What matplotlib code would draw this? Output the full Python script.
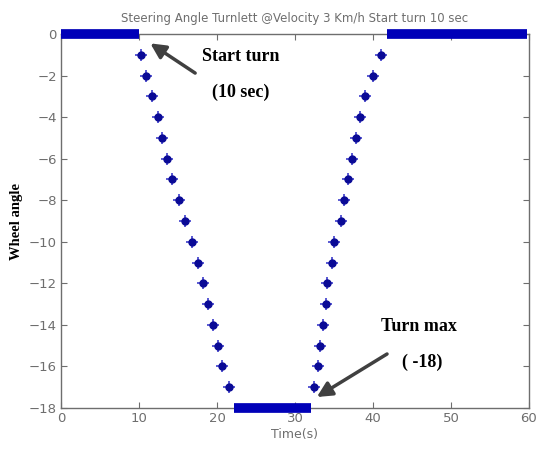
import matplotlib
matplotlib.use("Agg")
import matplotlib.pyplot as plt

# steering angle held constant (start, end, angle)
hold_start = [0.0, 22.2, 41.8]
hold_end = [10.0, 32.05, 59.7]
hold_angle = [0, -18, 0]

# ramp into the turn
ramp_in_t = [10.26, 10.94, 11.67, 12.44, 12.9, 13.59, 14.23, 15.13, 15.85,
             16.79, 17.51, 18.15, 18.79, 19.44, 20.08, 20.64, 21.58]
ramp_in_a = [-1, -2, -3, -4, -5, -6, -7, -8, -9,
             -10, -11, -12, -13, -14, -15, -16, -17]

# ramp back out of the turn
ramp_out_t = [32.4, 32.9, 33.25, 33.55, 33.95, 34.1, 34.7, 34.95, 35.9,
              36.3, 36.75, 37.3, 37.85, 38.3, 39.0, 40.0, 41.05]
ramp_out_a = [-17, -16, -15, -14, -13, -12, -11, -10, -9,
              -8, -7, -6, -5, -4, -3, -2, -1]

x_ticks = [0, 10, 20, 30, 40, 50, 60]
y_ticks = [0, -2, -4, -6, -8, -10, -12, -14, -16, -18]

BAR_COLOR = "#0000B8"
DOT_COLOR = "#0A0A96"
GREY = "#6E6E6E"

fig = plt.figure(figsize=(5.42, 4.51), dpi=100)
ax = fig.add_axes([0.1125, 0.0953, 0.8635, 0.8293])

for t0, t1, a in zip(hold_start, hold_end, hold_angle):
    ax.plot([t0, t1], [a, a], color=BAR_COLOR, linewidth=7,
            solid_capstyle="butt", zorder=3, clip_on=False)

for ts, angs in [(ramp_in_t, ramp_in_a), (ramp_out_t, ramp_out_a)]:
    ax.plot(ts, angs, linestyle="none", marker="+", markersize=9,
            markeredgewidth=1.4, color="#3030C8", alpha=0.8, zorder=3)
    ax.plot(ts, angs, linestyle="none", marker="o", markersize=5,
            color=DOT_COLOR, zorder=4)

ax.set_xlim(0, 60)
ax.set_ylim(-18, 0)
ax.set_xticks(x_ticks)
ax.set_yticks(y_ticks)
ax.tick_params(direction="in", top=True, right=True, length=4,
               color=GREY, labelcolor=GREY, labelsize=9.5, pad=3)
for sp in ax.spines.values():
    sp.set_color(GREY)
    sp.set_linewidth(1.0)

ax.set_title("Steering Angle Turnlett @Velocity 3 Km/h Start turn 10 sec",
             fontsize=8.5, color=GREY, pad=9)
ax.set_xlabel("Time(s)", fontsize=9, color=GREY, labelpad=2)
ax.set_ylabel("Wheel angle", fontsize=10.5, fontweight="bold",
              family="Liberation Serif", color="black", labelpad=4)

# annotations
arrow = dict(arrowstyle="-|>,head_length=0.9,head_width=0.45",
             color="#404040", lw=2.5, shrinkA=0, shrinkB=0)
ax.annotate("", xy=(11.45, -0.45), xytext=(17.2, -1.88), arrowprops=arrow)
ax.annotate("", xy=(32.8, -17.47), xytext=(41.8, -15.4), arrowprops=arrow)

txt = dict(fontsize=13, fontweight="bold", family="Liberation Serif",
           ha="center", va="center", color="black")
ax.text(23.1, -1.09, "Start turn", **txt)
ax.text(23.1, -2.8, "(10 sec)", **txt)
ax.text(45.9, -14.1, "Turn max", **txt)
ax.text(46.3, -15.8, "( -18)", **txt)

fig.savefig("out.png", dpi=100)
